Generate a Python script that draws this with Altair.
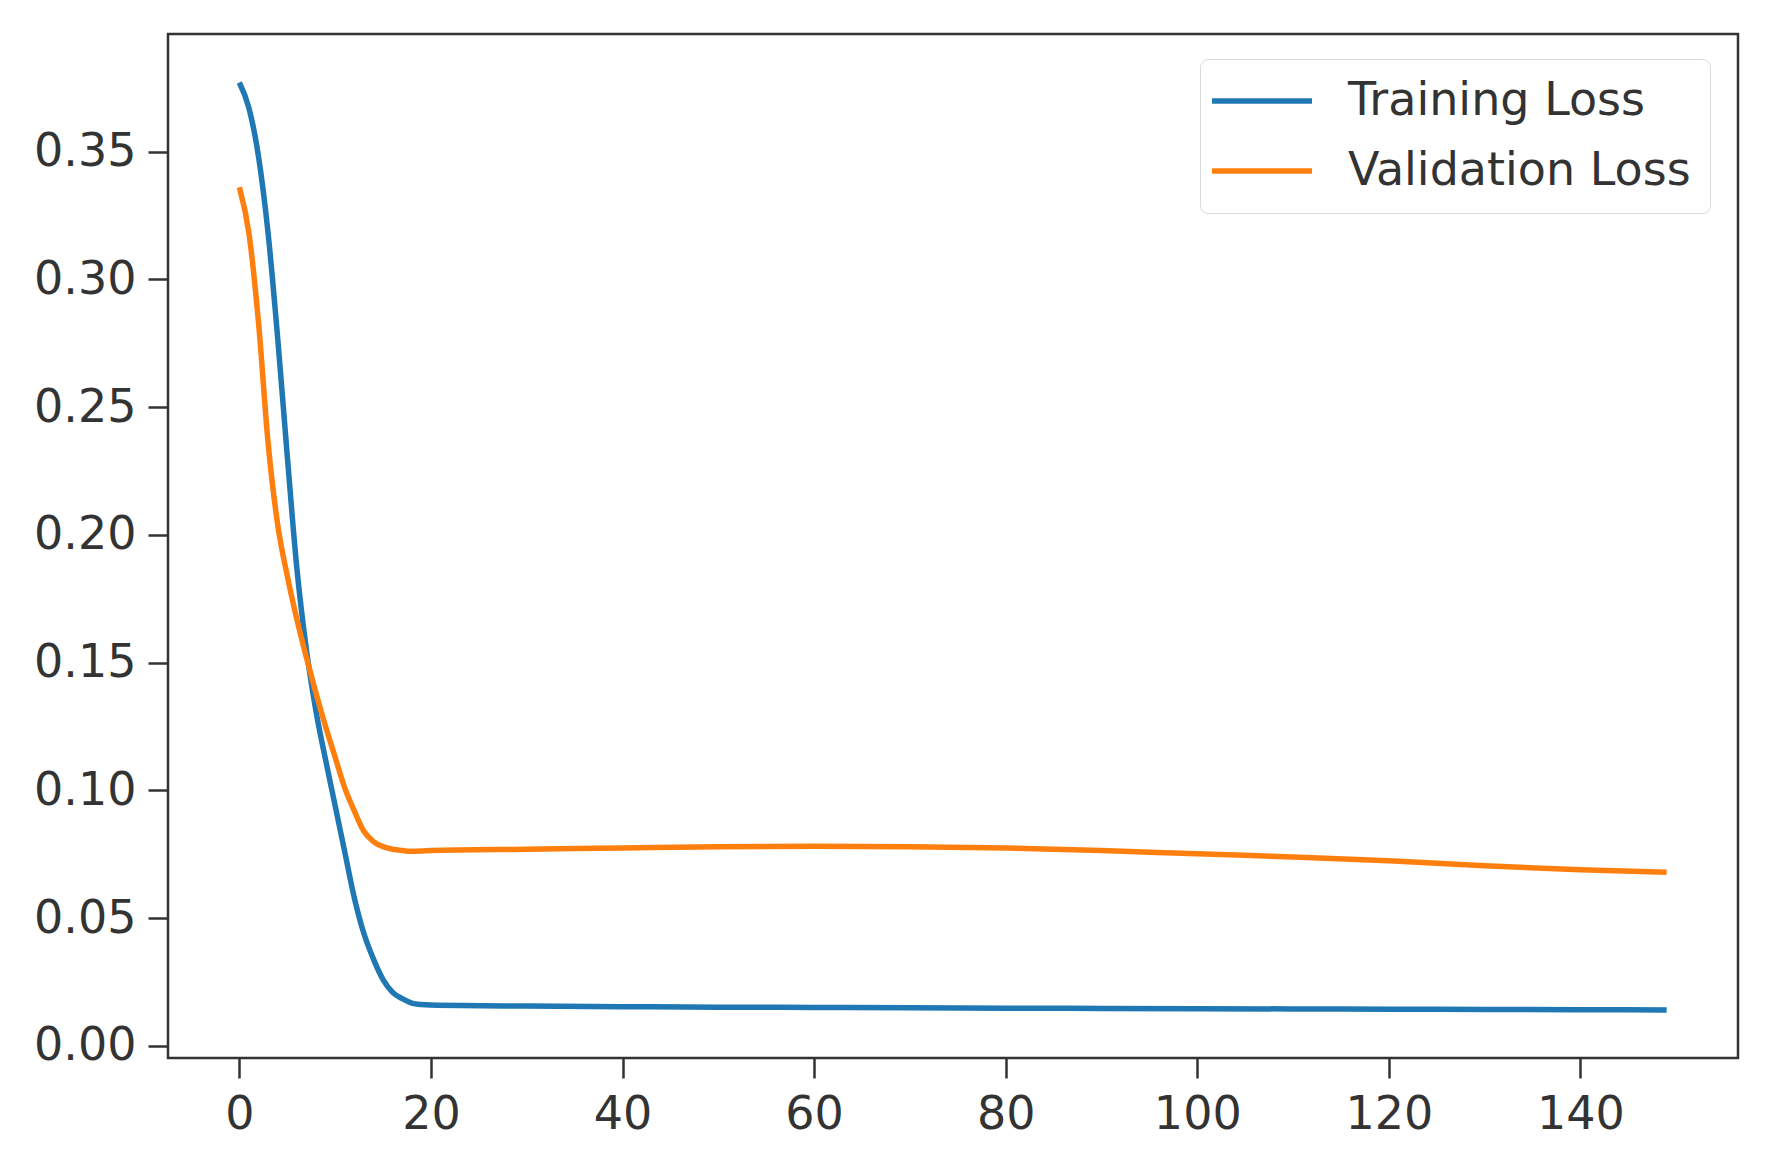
import altair as alt
import pandas as pd

train_epochs = list(range(0, 21)) + [30, 40, 50, 60, 70, 80, 90, 100, 110, 120, 130, 140, 149]
train_loss = [0.377, 0.367, 0.348, 0.318, 0.277, 0.231, 0.187, 0.155, 0.131, 0.112,
              0.094, 0.076, 0.058, 0.044, 0.034, 0.026, 0.021, 0.0185, 0.0168, 0.0162,
              0.0160, 0.0156, 0.0154, 0.0152, 0.0151, 0.0150, 0.0148, 0.0147, 0.0146,
              0.0145, 0.0144, 0.0143, 0.0142, 0.0141]

val_epochs = list(range(0, 21)) + [30, 40, 50, 60, 70, 80, 90, 100, 110, 120, 130, 140, 149]
val_loss = [0.336, 0.318, 0.283, 0.236, 0.204, 0.184, 0.167, 0.152, 0.138, 0.125,
            0.113, 0.101, 0.092, 0.084, 0.080, 0.078, 0.077, 0.0765, 0.0762, 0.0763,
            0.0765, 0.0770, 0.0775, 0.0780, 0.0782, 0.0780, 0.0775, 0.0765, 0.0752,
            0.0740, 0.0725, 0.0705, 0.0690, 0.0680]

series_names = ["Training Loss", "Validation Loss"]
series_colors = ["#1f77b4", "#ff7f0e"]
y_ticks = [0.0, 0.05, 0.10, 0.15, 0.20, 0.25, 0.30, 0.35]
x_ticks = [0, 20, 40, 60, 80, 100, 120, 140]

df = pd.concat([
    pd.DataFrame({"epoch": train_epochs, "loss": train_loss, "series": series_names[0]}),
    pd.DataFrame({"epoch": val_epochs, "loss": val_loss, "series": series_names[1]}),
])

FONT = "DejaVu Sans"

chart = alt.Chart(df).mark_line(strokeWidth=5.5, clip=True, interpolate="monotone").encode(
    x=alt.X("epoch:Q",
            scale=alt.Scale(domain=[-7.45, 156.45], nice=False, zero=False),
            axis=alt.Axis(values=x_ticks, title=None, grid=False, domain=False,
                          labelFontSize=46, labelFont=FONT, labelColor="#333333",
                          tickColor="#333333", tickWidth=2.5, tickSize=20,
                          labelPadding=14, labelFlush=False)),
    y=alt.Y("loss:Q",
            scale=alt.Scale(domain=[-0.0047, 0.396], nice=False, zero=False),
            axis=alt.Axis(values=y_ticks, format=".2f", title=None, grid=False, domain=False,
                          labelFontSize=46, labelFont=FONT, labelColor="#333333",
                          tickColor="#333333", tickWidth=2.5, tickSize=20,
                          labelPadding=12, labelFlush=False)),
    color=alt.Color("series:N",
                    scale=alt.Scale(domain=series_names, range=series_colors),
                    legend=alt.Legend(orient="none", legendX=1032, legendY=25, title=None,
                                      symbolType="M-1.5,0H3.5", symbolSize=1600,
                                      symbolStrokeWidth=5.5, labelOffset=83,
                                      labelFontSize=46, labelFont=FONT, labelColor="#333333",
                                      labelLimit=2000,
                                      padding=19, rowPadding=24,
                                      fillColor="white", strokeColor="#d9d9d9",
                                      cornerRadius=8)),
    order=alt.Order("epoch:Q"),
).properties(
    width=1570, height=1024,
    autosize=alt.AutoSizeParams(type="none"),
    padding={"left": 160, "top": 26, "right": 29, "bottom": 95},
).configure_view(
    stroke="#333333", strokeWidth=2.5
)

chart.save("out.html", embed_options={"renderer": "svg", "actions": False})
